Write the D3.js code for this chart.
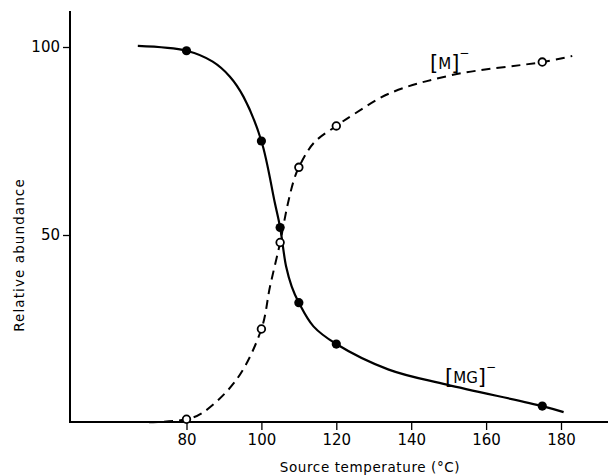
<!DOCTYPE html>
<html>
<head>
<meta charset="utf-8">
<script src="https://cdn.jsdelivr.net/npm/d3@7"></script>
<style>
  body { margin: 0; background: #fff; }
  svg text { font-family: "DejaVu Sans", sans-serif; fill: #000; }
</style>
</head>
<body>
<svg id="chart" width="610" height="476"></svg>
<script>
// measured points (source temperature, relative abundance)
var mgTemps = [80, 100, 105, 110, 120, 175];
var mgVals = [99, 75, 52, 32, 21, 4.5];
var mTemps = [80, 100, 105, 110, 120, 175];
var mVals = [1, 25, 48, 68, 79, 96];

// hand drawn curves
var mgCurveT = [67, 80, 87, 91.6, 95.2, 100, 103.6, 105, 106.6, 108.1, 110, 113.9, 120, 134, 149.5, 175, 180.7];
var mgCurveV = [100.3, 99, 96.1, 92.1, 86.8, 75, 58.5, 52, 41.6, 36.3, 32, 25.7, 21, 14.2, 10.2, 4.5, 2.9];
var mCurveT = [70, 80, 84.4, 93.4, 100, 102.3, 105, 106.9, 108.7, 110, 114, 120, 124.5, 134.3, 151.2, 175, 183];
var mCurveV = [0.2, 1, 2.8, 11.6, 25, 36.3, 48, 57.6, 64.7, 68, 74.5, 79, 82, 87.7, 92.6, 96, 97.6];

var xTicks = [80, 100, 120, 140, 160, 180];
var yTicks = [50, 100];

var svg = d3.select("#chart");

//scales
var x = d3.scaleLinear().domain([80, 180]).range([186.5, 561]);
var y = d3.scaleLinear().domain([0, 100]).range([423, 47]);

//axis lines
svg.append("line")
  .attr("x1", 70).attr("x2", 70).attr("y1", 11).attr("y2", 423)
  .attr("stroke", "#000").attr("stroke-width", 2);
svg.append("line")
  .attr("x1", 69).attr("x2", 608).attr("y1", 422).attr("y2", 422)
  .attr("stroke", "#000").attr("stroke-width", 2);

var xAxis = d3.axisBottom(x).tickValues(xTicks).tickSize(8).tickSizeOuter(0).tickPadding(4);
var yAxis = d3.axisLeft(y).tickValues(yTicks).tickSize(7).tickSizeOuter(0).tickPadding(3);

var gx = svg.append("g")
  .attr("transform", "translate(0,422)")
  .call(xAxis);
gx.select(".domain").remove();
gx.selectAll("line").attr("stroke-width", 1.3);
gx.selectAll("text").style("font-size", "15px").attr("dy", "0.72em");

var gy = svg.append("g")
  .attr("transform", "translate(70,0)")
  .call(yAxis);
gy.select(".domain").remove();
gy.selectAll("line").attr("stroke-width", 1.3);
gy.selectAll("text").style("font-size", "15px");

//axis titles
svg.append("text")
  .attr("x", 370).attr("y", 472)
  .attr("text-anchor", "middle")
  .style("font-size", "13.5px").style("letter-spacing", "0.6px")
  .text("Source temperature (°C)");

svg.append("text")
  .attr("transform", "translate(24,255) rotate(-90)")
  .attr("text-anchor", "middle")
  .style("font-size", "13.5px").style("letter-spacing", "1.1px")
  .text("Relative abundance");

//curves
var line = d3.line()
  .x(function(d) { return x(d[0]); })
  .y(function(d) { return y(d[1]); })
  .curve(d3.curveCatmullRom.alpha(0.5));

svg.append("path")
  .datum(d3.zip(mgCurveT, mgCurveV))
  .attr("d", line)
  .attr("fill", "none").attr("stroke", "#000").attr("stroke-width", 2.2);

svg.append("path")
  .datum(d3.zip(mCurveT, mCurveV))
  .attr("d", line)
  .attr("fill", "none").attr("stroke", "#000").attr("stroke-width", 2)
  .attr("stroke-dasharray", "9,6");

//points
svg.selectAll(".mg")
  .data(d3.zip(mgTemps, mgVals))
  .enter().append("circle")
  .attr("class", "mg")
  .attr("cx", function(d) { return x(d[0]); })
  .attr("cy", function(d) { return y(d[1]); })
  .attr("r", 4.6)
  .attr("fill", "#000");

svg.selectAll(".m")
  .data(d3.zip(mTemps, mVals))
  .enter().append("circle")
  .attr("class", "m")
  .attr("cx", function(d) { return x(d[0]); })
  .attr("cy", function(d) { return y(d[1]); })
  .attr("r", 3.8)
  .attr("fill", "#fff").attr("stroke", "#000").attr("stroke-width", 1.8);

//labels
function ionLabel(px, py, inner) {
  var t = svg.append("text").attr("x", px).attr("y", py).style("font-size", "15px");
  t.append("tspan").style("font-size", "21px").text("[");
  t.append("tspan").attr("dy", -1).text(inner);
  t.append("tspan").attr("dy", 1).style("font-size", "21px").text("]");
  t.append("tspan").attr("dy", -13).style("font-size", "12px").text("\u2212");
}
ionLabel(430, 70, "M");
ionLabel(445, 384, "MG");
</script>
</body>
</html>
